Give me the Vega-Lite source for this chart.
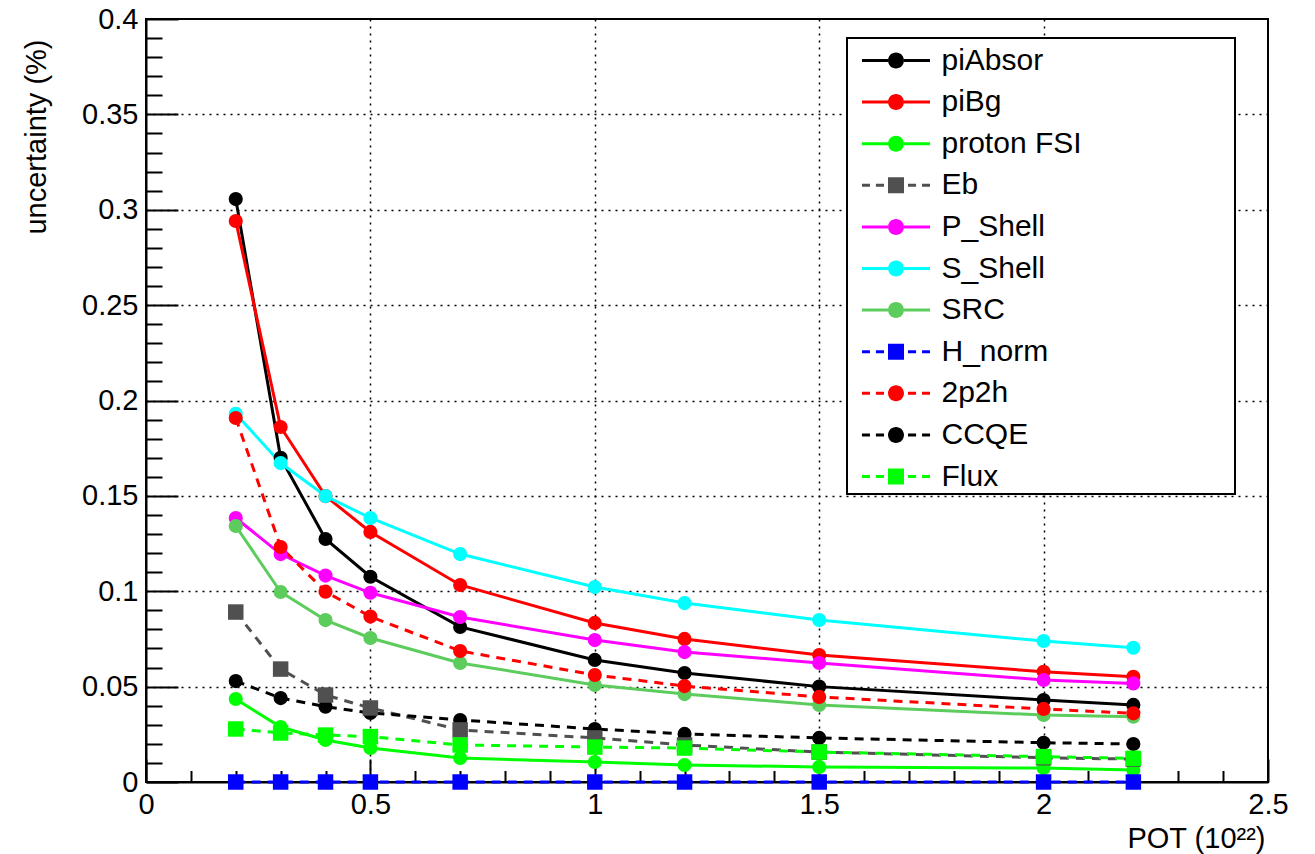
{
  "$schema": "https://vega.github.io/schema/vega-lite/v6.json",
  "width": 1122,
  "height": 763,
  "autosize": "none",
  "padding": {"left": 146, "top": 19, "right": 47, "bottom": 72},
  "background": "white",
  "config": {
    "font": "Liberation Sans",
    "view": {"stroke": "black", "strokeWidth": 2},
    "legend": {
      "symbolSize": 1681,
      "symbolStrokeWidth": 0,
      "symbolOffset": 26.5,
      "labelOffset": 25,
      "labelFont": "Liberation Sans",
      "labelFontSize": 30,
      "labelColor": "black",
      "labelLimit": 400,
      "rowPadding": 5.6,
      "padding": 2,
      "strokeColor": "black",
      "strokeWidth": 2,
      "fillColor": "white",
      "symbolOpacity": 1,
      "titleFont": "DejaVu Sans",
      "titleFontSize": 30,
      "titlePadding": 10,
      "titleLimit": 1000
    }
  },
  "data": {
    "values": [
      {"series": "piAbsor", "x": 0.2, "y": 0.3056},
      {"series": "piAbsor", "x": 0.3, "y": 0.170},
      {"series": "piAbsor", "x": 0.4, "y": 0.1274},
      {"series": "piAbsor", "x": 0.5, "y": 0.1076},
      {"series": "piAbsor", "x": 0.7, "y": 0.0813},
      {"series": "piAbsor", "x": 1.0, "y": 0.0640},
      {"series": "piAbsor", "x": 1.2, "y": 0.0571},
      {"series": "piAbsor", "x": 1.5, "y": 0.0500},
      {"series": "piAbsor", "x": 2.0, "y": 0.0430},
      {"series": "piAbsor", "x": 2.2, "y": 0.0404},
      {"series": "piBg", "x": 0.2, "y": 0.2941},
      {"series": "piBg", "x": 0.3, "y": 0.1861},
      {"series": "piBg", "x": 0.4, "y": 0.1499},
      {"series": "piBg", "x": 0.5, "y": 0.1311},
      {"series": "piBg", "x": 0.7, "y": 0.1033},
      {"series": "piBg", "x": 1.0, "y": 0.0834},
      {"series": "piBg", "x": 1.2, "y": 0.0750},
      {"series": "piBg", "x": 1.5, "y": 0.0666},
      {"series": "piBg", "x": 2.0, "y": 0.0578},
      {"series": "piBg", "x": 2.2, "y": 0.0552},
      {"series": "proton FSI", "x": 0.2, "y": 0.0435},
      {"series": "proton FSI", "x": 0.3, "y": 0.0288},
      {"series": "proton FSI", "x": 0.4, "y": 0.0220},
      {"series": "proton FSI", "x": 0.5, "y": 0.0178},
      {"series": "proton FSI", "x": 0.7, "y": 0.0126},
      {"series": "proton FSI", "x": 1.0, "y": 0.0105},
      {"series": "proton FSI", "x": 1.2, "y": 0.0089},
      {"series": "proton FSI", "x": 1.5, "y": 0.0079},
      {"series": "proton FSI", "x": 2.0, "y": 0.0073},
      {"series": "proton FSI", "x": 2.2, "y": 0.0063},
      {"series": "Eb", "x": 0.2, "y": 0.0891},
      {"series": "Eb", "x": 0.3, "y": 0.0592},
      {"series": "Eb", "x": 0.4, "y": 0.0456},
      {"series": "Eb", "x": 0.5, "y": 0.0388},
      {"series": "Eb", "x": 0.7, "y": 0.0273},
      {"series": "Eb", "x": 1.0, "y": 0.0231},
      {"series": "Eb", "x": 1.2, "y": 0.0194},
      {"series": "Eb", "x": 1.5, "y": 0.0157},
      {"series": "Eb", "x": 2.0, "y": 0.0127},
      {"series": "Eb", "x": 2.2, "y": 0.0120},
      {"series": "P_Shell", "x": 0.2, "y": 0.1384},
      {"series": "P_Shell", "x": 0.3, "y": 0.1195},
      {"series": "P_Shell", "x": 0.4, "y": 0.1082},
      {"series": "P_Shell", "x": 0.5, "y": 0.0992},
      {"series": "P_Shell", "x": 0.7, "y": 0.0865},
      {"series": "P_Shell", "x": 1.0, "y": 0.0744},
      {"series": "P_Shell", "x": 1.2, "y": 0.0681},
      {"series": "P_Shell", "x": 1.5, "y": 0.0624},
      {"series": "P_Shell", "x": 2.0, "y": 0.0535},
      {"series": "P_Shell", "x": 2.2, "y": 0.0517},
      {"series": "S_Shell", "x": 0.2, "y": 0.1930},
      {"series": "S_Shell", "x": 0.3, "y": 0.1672},
      {"series": "S_Shell", "x": 0.4, "y": 0.1499},
      {"series": "S_Shell", "x": 0.5, "y": 0.1384},
      {"series": "S_Shell", "x": 0.7, "y": 0.1195},
      {"series": "S_Shell", "x": 1.0, "y": 0.1022},
      {"series": "S_Shell", "x": 1.2, "y": 0.0938},
      {"series": "S_Shell", "x": 1.5, "y": 0.0849},
      {"series": "S_Shell", "x": 2.0, "y": 0.0739},
      {"series": "S_Shell", "x": 2.2, "y": 0.0704},
      {"series": "SRC", "x": 0.2, "y": 0.1342},
      {"series": "SRC", "x": 0.3, "y": 0.0996},
      {"series": "SRC", "x": 0.4, "y": 0.0849},
      {"series": "SRC", "x": 0.5, "y": 0.0755},
      {"series": "SRC", "x": 0.7, "y": 0.0624},
      {"series": "SRC", "x": 1.0, "y": 0.0509},
      {"series": "SRC", "x": 1.2, "y": 0.0461},
      {"series": "SRC", "x": 1.5, "y": 0.0404},
      {"series": "SRC", "x": 2.0, "y": 0.0351},
      {"series": "SRC", "x": 2.2, "y": 0.0342},
      {"series": "H_norm", "x": 0.2, "y": 0},
      {"series": "H_norm", "x": 0.3, "y": 0},
      {"series": "H_norm", "x": 0.4, "y": 0},
      {"series": "H_norm", "x": 0.5, "y": 0},
      {"series": "H_norm", "x": 0.7, "y": 0},
      {"series": "H_norm", "x": 1.0, "y": 0},
      {"series": "H_norm", "x": 1.2, "y": 0},
      {"series": "H_norm", "x": 1.5, "y": 0},
      {"series": "H_norm", "x": 2.0, "y": 0},
      {"series": "H_norm", "x": 2.2, "y": 0},
      {"series": "2p2h", "x": 0.2, "y": 0.1908},
      {"series": "2p2h", "x": 0.3, "y": 0.1232},
      {"series": "2p2h", "x": 0.4, "y": 0.0998},
      {"series": "2p2h", "x": 0.5, "y": 0.0867},
      {"series": "2p2h", "x": 0.7, "y": 0.0687},
      {"series": "2p2h", "x": 1.0, "y": 0.0561},
      {"series": "2p2h", "x": 1.2, "y": 0.0503},
      {"series": "2p2h", "x": 1.5, "y": 0.0446},
      {"series": "2p2h", "x": 2.0, "y": 0.0383},
      {"series": "2p2h", "x": 2.2, "y": 0.0360},
      {"series": "CCQE", "x": 0.2, "y": 0.0529},
      {"series": "CCQE", "x": 0.3, "y": 0.0440},
      {"series": "CCQE", "x": 0.4, "y": 0.0395},
      {"series": "CCQE", "x": 0.5, "y": 0.0362},
      {"series": "CCQE", "x": 0.7, "y": 0.0325},
      {"series": "CCQE", "x": 1.0, "y": 0.0278},
      {"series": "CCQE", "x": 1.2, "y": 0.0252},
      {"series": "CCQE", "x": 1.5, "y": 0.0231},
      {"series": "CCQE", "x": 2.0, "y": 0.0206},
      {"series": "CCQE", "x": 2.2, "y": 0.0199},
      {"series": "Flux", "x": 0.2, "y": 0.0278},
      {"series": "Flux", "x": 0.3, "y": 0.0257},
      {"series": "Flux", "x": 0.4, "y": 0.0246},
      {"series": "Flux", "x": 0.5, "y": 0.0238},
      {"series": "Flux", "x": 0.7, "y": 0.0194},
      {"series": "Flux", "x": 1.0, "y": 0.0183},
      {"series": "Flux", "x": 1.2, "y": 0.0178},
      {"series": "Flux", "x": 1.5, "y": 0.0157},
      {"series": "Flux", "x": 2.0, "y": 0.0133},
      {"series": "Flux", "x": 2.2, "y": 0.0124}
    ]
  },
  "encoding": {
    "x": {
      "field": "x", "type": "quantitative",
      "scale": {"domain": [0, 2.5], "nice": false, "zero": false},
      "axis": {
        "values": [0,0.1,0.2,0.3,0.4,0.5,0.6,0.7,0.8,0.9,1,1.1,1.2,1.3,1.4,1.5,1.6,1.7,1.8,1.9,2,2.1,2.2,2.3,2.4,2.5],
        "labelExpr": "abs(datum.value*2-round(datum.value*2))<1e-6 ? toString(round(datum.value*10)/10) : ''",
        "tickSize": {"condition": {"test": "abs(datum.value*2-round(datum.value*2))<1e-6", "value": -23}, "value": -11.5},
        "tickColor": "black", "tickWidth": 2,
        "domainColor": "black", "domainWidth": 2,
        "grid": true,
        "gridColor": "black", "gridWidth": 1.5, "gridDash": [2, 5],
        "gridOpacity": {"condition": {"test": "abs(datum.value*2-round(datum.value*2))<1e-6 && datum.value>0.01 && datum.value<2.49", "value": 1}, "value": 0},
        "labelFont": "Liberation Sans", "labelFontSize": 29, "labelColor": "black",
        "labelPadding": 31, "labelBaseline": "top",
        "labelFlush": false, "labelOverlap": false, "labelBound": false,
        "title": "POT (10²²)",
        "titleFont": "Liberation Sans", "titleFontSize": 29, "titleFontWeight": "normal", "titleColor": "black",
        "titleAnchor": "end", "titleAlign": "right", "titleBaseline": "alphabetic",
        "titleX": 1119, "titleY": 65
      }
    },
    "y": {
      "field": "y", "type": "quantitative",
      "scale": {"domain": [0, 0.4], "nice": false, "zero": false},
      "axis": {
        "values": [0,0.01,0.02,0.03,0.04,0.05,0.06,0.07,0.08,0.09,0.1,0.11,0.12,0.13,0.14,0.15,0.16,0.17,0.18,0.19,0.2,0.21,0.22,0.23,0.24,0.25,0.26,0.27,0.28,0.29,0.3,0.31,0.32,0.33,0.34,0.35,0.36,0.37,0.38,0.39,0.4],
        "labelExpr": "abs(datum.value*20-round(datum.value*20))<1e-6 ? toString(round(datum.value*100)/100) : ''",
        "tickSize": {"condition": {"test": "abs(datum.value*20-round(datum.value*20))<1e-6", "value": -32}, "value": -16},
        "tickColor": "black", "tickWidth": 2,
        "domainColor": "black", "domainWidth": 2,
        "grid": true,
        "gridColor": "black", "gridWidth": 1.5, "gridDash": [2, 5],
        "gridOpacity": {"condition": {"test": "abs(datum.value*20-round(datum.value*20))<1e-6 && datum.value>0.001 && datum.value<0.399", "value": 1}, "value": 0},
        "labelFont": "Liberation Sans", "labelFontSize": 29, "labelColor": "black",
        "labelPadding": 40,
        "labelFlush": false, "labelOverlap": false, "labelBound": false,
        "title": "uncertainty (%)",
        "titleFont": "Liberation Sans", "titleFontSize": 29, "titleFontWeight": "normal", "titleColor": "black",
        "titleAnchor": "end", "titleAlign": "right", "titleBaseline": "alphabetic",
        "titleX": -101, "titleY": 20
      }
    }
  },
  "layer": [
    {
      "mark": {"type": "point", "filled": true, "opacity": 0},
      "encoding": {
        "color": {
          "field": "series", "type": "nominal",
          "scale": {
            "domain": ["piAbsor", "piBg", "proton FSI", "Eb", "P_Shell", "S_Shell", "SRC", "H_norm", "2p2h", "CCQE", "Flux"],
            "range": ["#000000", "#ff0000", "#00ff00", "#505050", "#ff00ff", "#00ffff", "#5ccc5c", "#0000ff", "#ff0000", "#000000", "#00ff00"]
          },
          "legend": {"orient": "none", "legendX": 701, "legendY": 19, "title": "\u2800\u2800\u2800\u2800\u2800\u2800", "titleOrient": "right"}
        },
        "shape": {
          "field": "series", "type": "nominal",
          "scale": {
            "domain": ["piAbsor", "piBg", "proton FSI", "Eb", "P_Shell", "S_Shell", "SRC", "H_norm", "2p2h", "CCQE", "Flux"],
            "range": [
              "M-1.66,-0.073H-0.39V0.073H-1.66Z M0.39,-0.073H1.66V0.073H0.39Z M0.39,0A0.39,0.39,0,1,1,-0.39,0A0.39,0.39,0,1,1,0.39,0Z",
              "M-1.66,-0.073H-0.39V0.073H-1.66Z M0.39,-0.073H1.66V0.073H0.39Z M0.39,0A0.39,0.39,0,1,1,-0.39,0A0.39,0.39,0,1,1,0.39,0Z",
              "M-1.66,-0.073H-0.39V0.073H-1.66Z M0.39,-0.073H1.66V0.073H0.39Z M0.39,0A0.39,0.39,0,1,1,-0.39,0A0.39,0.39,0,1,1,0.39,0Z",
              "M-1.66,-0.073H-1.27V0.073H-1.66Z M-0.98,-0.073H-0.585V0.073H-0.98Z M-0.39,-0.39H0.39V0.39H-0.39Z M0.585,-0.073H0.98V0.073H0.585Z M1.27,-0.073H1.66V0.073H1.27Z",
              "M-1.66,-0.073H-0.39V0.073H-1.66Z M0.39,-0.073H1.66V0.073H0.39Z M0.39,0A0.39,0.39,0,1,1,-0.39,0A0.39,0.39,0,1,1,0.39,0Z",
              "M-1.66,-0.073H-0.39V0.073H-1.66Z M0.39,-0.073H1.66V0.073H0.39Z M0.39,0A0.39,0.39,0,1,1,-0.39,0A0.39,0.39,0,1,1,0.39,0Z",
              "M-1.66,-0.073H-0.39V0.073H-1.66Z M0.39,-0.073H1.66V0.073H0.39Z M0.39,0A0.39,0.39,0,1,1,-0.39,0A0.39,0.39,0,1,1,0.39,0Z",
              "M-1.66,-0.073H-1.27V0.073H-1.66Z M-0.98,-0.073H-0.585V0.073H-0.98Z M-0.39,-0.39H0.39V0.39H-0.39Z M0.585,-0.073H0.98V0.073H0.585Z M1.27,-0.073H1.66V0.073H1.27Z",
              "M-1.66,-0.073H-1.27V0.073H-1.66Z M-0.98,-0.073H-0.585V0.073H-0.98Z M0.39,0A0.39,0.39,0,1,1,-0.39,0A0.39,0.39,0,1,1,0.39,0Z M0.585,-0.073H0.98V0.073H0.585Z M1.27,-0.073H1.66V0.073H1.27Z",
              "M-1.66,-0.073H-1.27V0.073H-1.66Z M-0.98,-0.073H-0.585V0.073H-0.98Z M0.39,0A0.39,0.39,0,1,1,-0.39,0A0.39,0.39,0,1,1,0.39,0Z M0.585,-0.073H0.98V0.073H0.585Z M1.27,-0.073H1.66V0.073H1.27Z",
              "M-1.66,-0.073H-1.27V0.073H-1.66Z M-0.98,-0.073H-0.585V0.073H-0.98Z M-0.39,-0.39H0.39V0.39H-0.39Z M0.585,-0.073H0.98V0.073H0.585Z M1.27,-0.073H1.66V0.073H1.27Z"
            ]
          },
          "legend": {"orient": "none", "legendX": 701, "legendY": 19, "title": "\u2800\u2800\u2800\u2800\u2800\u2800", "titleOrient": "right"}
        }
      }
    },
    {
      "transform": [{"filter": {"field": "series", "oneOf": ["piAbsor", "piBg", "proton FSI", "P_Shell", "S_Shell", "SRC"]}}],
      "mark": {"type": "line", "strokeWidth": 3},
      "encoding": {
        "color": {"field": "series", "type": "nominal", "legend": null}
      }
    },
    {
      "transform": [{"filter": {"field": "series", "oneOf": ["Eb", "H_norm", "2p2h", "CCQE", "Flux"]}}],
      "mark": {"type": "line", "strokeWidth": 3, "strokeDash": [9, 7]},
      "encoding": {
        "color": {"field": "series", "type": "nominal", "legend": null}
      }
    },
    {
      "transform": [{"filter": {"field": "series", "oneOf": ["piAbsor", "piBg", "proton FSI", "P_Shell", "S_Shell", "SRC", "2p2h", "CCQE"]}}],
      "mark": {"type": "point", "shape": "circle", "filled": true, "opacity": 1, "size": 200},
      "encoding": {
        "color": {"field": "series", "type": "nominal", "legend": null}
      }
    },
    {
      "transform": [{"filter": {"field": "series", "oneOf": ["Eb", "H_norm", "Flux"]}}],
      "mark": {"type": "point", "shape": "square", "filled": true, "opacity": 1, "size": 240},
      "encoding": {
        "color": {"field": "series", "type": "nominal", "legend": null}
      }
    }
  ]
}
